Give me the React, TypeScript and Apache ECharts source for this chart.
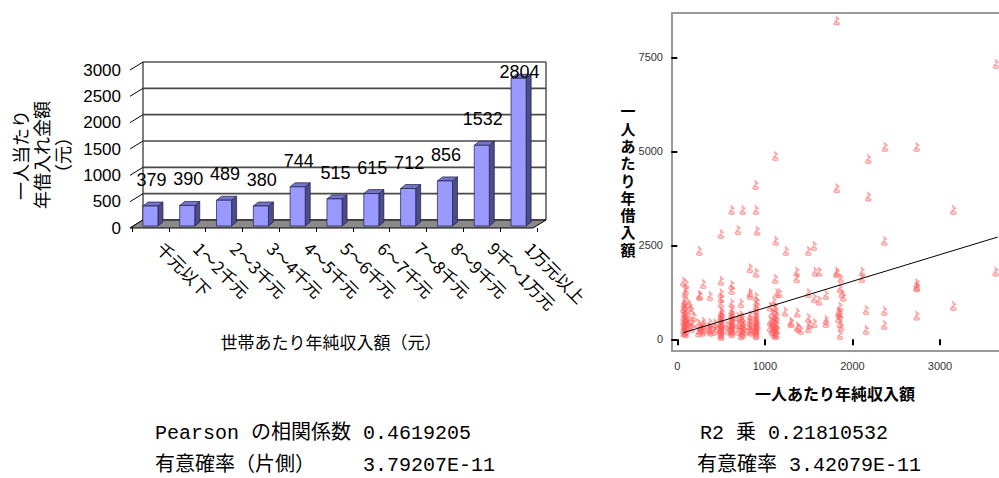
import React, { useEffect, useRef } from 'react';
import * as echarts from 'echarts';

// ---------- Left chart (3D-style bar) data ----------
const incomeBands = ['千元以下', '1～2千元', '2～3千元', '3～4千元', '4～5千元', '5～6千元', '6～7千元', '7～8千元', '8～9千元', '9千～1万元', '1万元以上'];
const borrowPerPerson = [379, 390, 489, 380, 744, 515, 615, 712, 856, 1532, 2804];
const barAxisTicks = [0, 500, 1000, 1500, 2000, 2500, 3000];
const barYName = ['一人当たり', '年借入れ金額', '（元）'];
const barXName = '世帯あたり年純収入額（元）';

// ---------- Right chart (scatter) data ----------
const scatterPoints: [number, number][] = [
  [69, 1532], [99, 1471], [88, 1223], [96, 1311], [85, 1045], [75, 960], [80, 880], [70, 820], [90, 760], [78, 700],
  [95, 650], [72, 600], [100, 560], [85, 520], [70, 480], [92, 440], [80, 400], [105, 370], [75, 340], [90, 300],
  [70, 270], [100, 240], [85, 210], [75, 180], [95, 160], [125, 957], [145, 867], [160, 780], [190, 601], [140, 520],
  [120, 450], [175, 420], [130, 350], [165, 300],
  [251, 1152], [256, 1178], [251, 2349], [297, 1471], [297, 468], [297, 247], [240, 420], [260, 330], [280, 290], [300, 380],
  [255, 250], [290, 200], [240, 180],
  [373, 1152], [373, 433], [373, 247], [360, 330], [380, 200], [365, 290], [430, 420], [440, 300], [425, 230],
  [499, 2801], [499, 1559], [499, 1223], [499, 1090], [499, 957], [499, 735], [499, 650], [499, 600], [499, 540], [499, 480],
  [499, 430], [499, 380], [499, 330], [499, 290], [499, 250], [499, 210], [499, 170], [499, 130], [499, 90], [510, 700],
  [505, 400], [490, 270], [560, 380], [575, 250],
  [621, 3439], [621, 1444], [621, 1312], [621, 957], [621, 780], [621, 700], [621, 640], [621, 580], [621, 520], [621, 470],
  [621, 420], [621, 370], [621, 320], [621, 280], [621, 240], [621, 200], [621, 160], [610, 300], [630, 450],
  [693, 2907], [690, 600], [690, 400], [690, 230],
  [747, 3439], [727, 957], [727, 640], [740, 560], [727, 500], [750, 450], [735, 400], [760, 350], [727, 300], [745, 260],
  [770, 220], [735, 180], [750, 140], [727, 110],
  [830, 1889], [830, 1240], [830, 1178], [830, 640], [830, 540], [830, 460], [830, 380], [830, 300], [830, 240], [840, 200],
  [895, 4104], [899, 3439], [910, 2889], [899, 1772], [899, 1133], [906, 1000], [899, 900], [899, 800], [899, 700], [899, 620],
  [899, 560], [899, 500], [899, 450], [899, 400], [899, 350], [899, 310], [899, 270], [899, 230], [899, 190], [899, 150],
  [899, 110], [915, 380], [885, 250],
  [1119, 4876], [1124, 2623], [1119, 1604], [1135, 1223], [1165, 1223], [1100, 1000], [1119, 867], [1059, 867], [1119, 780], [1080, 700],
  [1119, 650], [1135, 600], [1100, 560], [1119, 520], [1059, 480], [1080, 440], [1119, 420], [1135, 380], [1100, 350], [1059, 320],
  [1119, 300], [1090, 270], [1135, 250], [1080, 220], [1119, 190], [1100, 160], [1130, 130], [1119, 114],
  [1241, 2349], [1230, 735], [1295, 468], [1300, 430],
  [1363, 1799], [1363, 1622], [1370, 708], [1370, 335], [1409, 247], [1380, 300],
  [1496, 2349], [1561, 2482], [1496, 1223], [1565, 1090], [1618, 1027], [1496, 559], [1496, 293], [1565, 426], [1572, 1798], [1620, 1798],
  [1510, 400], [1698, 1178], [1698, 513], [1698, 433],
  [1820, 8475], [1820, 4017], [1820, 1798], [1820, 1760], [1866, 1622], [1858, 1357], [1877, 1223], [1896, 1133], [1840, 735], [1850, 690],
  [1860, 645], [1858, 867], [1858, 426], [1870, 335], [1858, 114], [1840, 560],
  [2181, 4796], [2181, 3793], [2109, 1798], [2109, 1622], [2155, 780], [2155, 247],
  [2372, 5115], [2364, 2615], [2364, 753], [2364, 380],
  [2734, 5115], [2734, 1418], [2734, 1490], [2734, 1380], [2734, 628],
  [3152, 3439], [3152, 886],
  [3640, 7323], [3636, 1798],
];
const regressionX = [70, 3660];
const regressionY = [176, 2720];
const scatterXTicks = [0, 1000, 2000, 3000];
const scatterYTicks = [0, 2500, 5000, 7500];
const scatterXName = '一人あたり年純収入額';
const scatterYName = '一人あたり年借入額';

// ---------- Statistics text ----------
const statsLeft = ['Pearson の相関係数 0.4619205', '有意確率（片側）    3.79207E-11'];
const statsRight = ['R2 乗 0.21810532', '有意確率 3.42079E-11'];

const JP = '"Noto Sans CJK JP", "Noto Sans", sans-serif';
const ARIAL = '"Liberation Sans", Arial, sans-serif';
const MONO = '"Liberation Mono", "Noto Sans CJK JP", monospace';

const DX = 13;
const DY = -8;

const plain = (v: number) => String(v);

export default function App() {
  const ref = useRef<HTMLDivElement>(null);

  useEffect(() => {
    if (!ref.current) return;
    const chart = echarts.init(ref.current, null, { renderer: 'svg' });

    const frameRender = (params: any, api: any) => {
      const cs = params.coordSys;
      const yv = (v: number) => api.coord([0, v])[1];
      const FL = cs.x - 2;
      const FR = cs.x + cs.width - 4;
      const y0 = yv(0);
      const top = yv(barAxisTicks[barAxisTicks.length - 1]);
      const children: any[] = [];
      children.push({
        type: 'polygon',
        shape: { points: [[FL + DX, y0 + DY], [FL + DX, top + DY], [FR + DX, top + DY], [FR + DX, y0 + DY]] },
        style: { fill: '#ffffff', stroke: '#000', lineWidth: 1 },
      });
      barAxisTicks.forEach((v) => {
        if (v === 0 || v === barAxisTicks[barAxisTicks.length - 1]) return;
        children.push({
          type: 'line',
          shape: { x1: FL + DX, y1: yv(v) + DY, x2: FR + DX, y2: yv(v) + DY },
          style: { stroke: '#4a4a4a', lineWidth: 1.6 },
        });
      });
      barAxisTicks.forEach((v) => {
        children.push({
          type: 'line',
          shape: { x1: FL, y1: yv(v), x2: FL + DX, y2: yv(v) + DY },
          style: { stroke: '#000', lineWidth: 1 },
        });
      });
      children.push({
        type: 'polygon',
        shape: { points: [[FL, y0], [FR, y0], [FR + DX, y0 + DY], [FL + DX, y0 + DY]] },
        style: { fill: '#8a8a8a', stroke: '#000', lineWidth: 1 },
      });
      return { type: 'group', children };
    };

    const barRender = (params: any, api: any) => {
      const cs = params.coordSys;
      const i = api.value(0);
      const v = api.value(1);
      const base = api.coord([i, 0]);
      const topP = api.coord([i, v]);
      const xc = base[0];
      const yb = base[1] - 2;
      const yt = topP[1] - 2;
      const w = api.size([1, 0])[0] * 0.41;
      const hw = w / 2;
      const bx = 5;
      const by = -4;
      const stroke = '#1c1c48';
      return {
        type: 'group',
        children: [
          {
            type: 'polygon',
            shape: { points: [[xc + hw, yt], [xc + hw + bx, yt + by], [xc + hw + bx, yb + by], [xc + hw, yb]] },
            style: { fill: '#4c4c88', stroke, lineWidth: 0.7 },
          },
          {
            type: 'polygon',
            shape: { points: [[xc - hw, yt], [xc + hw, yt], [xc + hw + bx, yt + by], [xc - hw + bx, yt + by]] },
            style: { fill: '#7474cc', stroke, lineWidth: 0.7 },
          },
          {
            type: 'rect',
            shape: { x: xc - hw, y: yt, width: w, height: yb - yt },
            style: { fill: '#9999ff', stroke, lineWidth: 0.7 },
          },
          {
            type: 'text',
            x: xc + 1,
            y: Math.max(yt - 26, cs.y + 2),
            style: {
              text: String(v),
              fill: '#000',
              fontSize: 18,
              fontFamily: ARIAL,
              align: 'center',
              verticalAlign: 'middle',
            },
          },
        ],
      };
    };

    const graphics: any[] = [
      {
        type: 'text',
        x: 41,
        y: 155,
        rotation: Math.PI / 2,
        style: {
          text: barYName.join('\n'),
          fontSize: 18,
          lineHeight: 21,
          fontFamily: JP,
          fill: '#000',
          align: 'center',
          verticalAlign: 'middle',
        },
      },
      {
        type: 'text',
        x: 331,
        y: 341,
        style: { text: barXName, fontSize: 17, fontFamily: JP, fill: '#000', align: 'center', verticalAlign: 'middle' },
      },
      {
        type: 'text',
        x: 628,
        y: 180,
        style: {
          text: scatterYName.split('').join('\n'),
          fontSize: 15,
          lineHeight: 17.3,
          fontWeight: 'bold',
          fontFamily: JP,
          fill: '#000',
          align: 'center',
          verticalAlign: 'middle',
        },
      },
      {
        type: 'text',
        x: 835,
        y: 393,
        style: { text: scatterXName, fontSize: 16, fontWeight: 'bold', fontFamily: JP, fill: '#000', align: 'center', verticalAlign: 'middle' },
      },
      {
        type: 'text',
        x: 155,
        y: 433,
        style: { text: statsLeft[0], fontSize: 20, fontFamily: MONO, fill: '#000', align: 'left', verticalAlign: 'middle' },
      },
      {
        type: 'text',
        x: 155,
        y: 465,
        style: { text: statsLeft[1], fontSize: 20, fontFamily: MONO, fill: '#000', align: 'left', verticalAlign: 'middle' },
      },
      {
        type: 'text',
        x: 700,
        y: 433,
        style: { text: statsRight[0], fontSize: 20, fontFamily: MONO, fill: '#000', align: 'left', verticalAlign: 'middle' },
      },
      {
        type: 'text',
        x: 697,
        y: 465,
        style: { text: statsRight[1], fontSize: 20, fontFamily: MONO, fill: '#000', align: 'left', verticalAlign: 'middle' },
      },
    ];

    const option: any = {
      animation: false,
      backgroundColor: '#ffffff',
      grid: [
        { left: 132, top: 70, width: 405, height: 158, outerBoundsMode: 'none' },
        {
          left: 672,
          top: 13,
          width: 330,
          height: 338,
          show: true,
          borderColor: '#999999',
          borderWidth: 2,
          backgroundColor: 'transparent',
          outerBoundsMode: 'none',
        },
      ],
      xAxis: [
        {
          type: 'category',
          gridIndex: 0,
          data: incomeBands,
          axisLine: { show: false },
          axisTick: { show: true, length: 4, lineStyle: { color: '#000', width: 1 } },
          axisLabel: {
            interval: 0,
            rotate: -45,
            margin: 7,
            padding: [0, 0, 0, 14],
            fontSize: 17,
            fontFamily: JP,
            color: '#000',
          },
          splitLine: { show: false },
        },
        {
          type: 'value',
          gridIndex: 1,
          min: -60.5,
          max: 3708,
          axisLine: { show: false },
          axisTick: { show: true, length: 6, customValues: scatterXTicks, lineStyle: { color: '#000', width: 2 } },
          axisLabel: { customValues: scatterXTicks, formatter: plain, margin: 9, fontSize: 11, fontFamily: ARIAL, color: '#333' },
          splitLine: { show: false },
        },
      ],
      yAxis: [
        {
          type: 'value',
          gridIndex: 0,
          min: 0,
          max: 3000,
          interval: 500,
          axisLine: { show: false },
          axisTick: { show: false },
          splitLine: { show: false },
          axisLabel: { formatter: plain, margin: 11, fontSize: 17, fontFamily: ARIAL, color: '#000', padding: [5, 0, 0, 0] },
        },
        {
          type: 'value',
          gridIndex: 1,
          min: -311,
          max: 8678,
          axisLine: { show: false },
          axisTick: { show: true, length: 6, customValues: scatterYTicks, lineStyle: { color: '#000', width: 2 } },
          axisLabel: { customValues: scatterYTicks, formatter: plain, margin: 9, fontSize: 11, fontFamily: ARIAL, color: '#333' },
          splitLine: { show: false },
        },
      ],
      graphic: graphics,
      series: [
        {
          type: 'custom',
          xAxisIndex: 0,
          yAxisIndex: 0,
          data: [[0, 0]],
          clip: false,
          z: 1,
          silent: true,
          renderItem: frameRender,
        },
        {
          type: 'custom',
          xAxisIndex: 0,
          yAxisIndex: 0,
          data: borrowPerPerson.map((v, i) => [i, v]),
          clip: false,
          z: 2,
          renderItem: barRender,
        },
        {
          type: 'scatter',
          xAxisIndex: 1,
          yAxisIndex: 1,
          data: scatterPoints,
          symbol: 'path://M2,0 L4,2.5 L1.5,4.5 L3.6,5.6 C5,6.6 4.2,8 2.6,8 C1,8 0.2,7 1,6 L2.6,4.6 Z',
          symbolSize: [6, 9],
          itemStyle: { color: 'rgba(255,120,120,0.45)', borderColor: 'rgba(255,80,80,0.6)', borderWidth: 0.9 },
          z: 3,
        },
        {
          type: 'line',
          xAxisIndex: 1,
          yAxisIndex: 1,
          data: regressionX.map((x, i) => [x, regressionY[i]]),
          symbol: 'none',
          lineStyle: { color: '#000', width: 1 },
          z: 4,
        },
      ],
    };

    chart.setOption(option);
    return () => {
      chart.dispose();
    };
  }, []);

  return (
    <div
      ref={ref}
      style={{ position: 'fixed', left: 0, top: 0, width: 999, height: 478, background: '#fff' }}
    />
  );
}
